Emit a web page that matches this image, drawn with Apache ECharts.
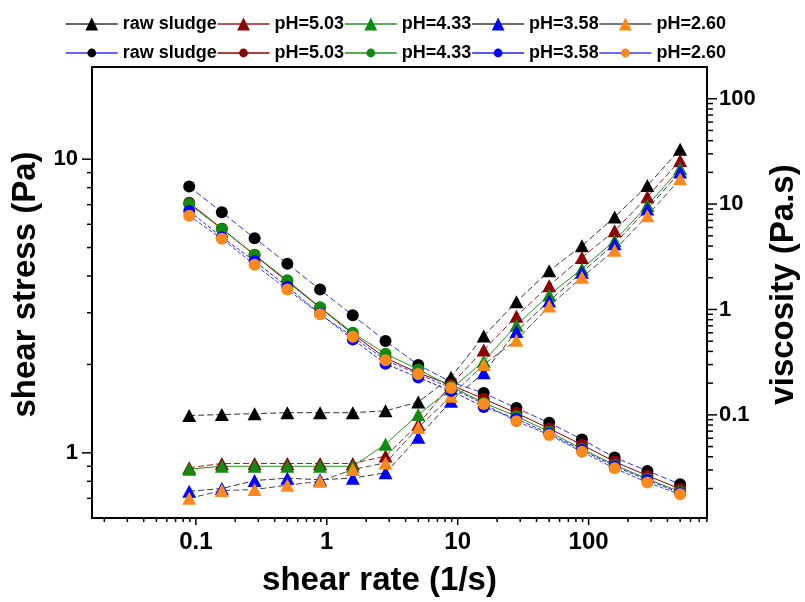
<!DOCTYPE html>
<html><head><meta charset="utf-8">
<script src="https://cdn.jsdelivr.net/npm/echarts@6/dist/echarts.min.js"></script>
<style>html,body{margin:0;padding:0;background:#fff}#c{width:805px;height:602px}</style>
</head><body><div id="c"></div>
<script>
// ---- data ----
const shearRate = [0.089, 0.158, 0.281, 0.5, 0.889, 1.58, 2.81, 5.0, 8.89, 15.8, 28.1, 50, 88.9, 158, 281, 500];
const sampleNames = ['raw sludge', 'pH=5.03', 'pH=4.33', 'pH=3.58', 'pH=2.60'];

const stressRaw = [1.34, 1.35, 1.36, 1.37, 1.37, 1.37, 1.39, 1.49, 1.81, 2.50, 3.27, 4.17, 5.07, 6.35, 8.13, 10.8];
const stress503 = [0.89, 0.92, 0.92, 0.92, 0.92, 0.92, 0.975, 1.25, 1.71, 2.24, 2.92, 3.71, 4.63, 5.70, 7.45, 9.90];
const stress433 = [0.88, 0.90, 0.90, 0.90, 0.90, 0.90, 1.07, 1.35, 1.65, 2.05, 2.72, 3.45, 4.23, 5.28, 6.95, 9.30];
const stress358 = [0.74, 0.756, 0.805, 0.82, 0.81, 0.82, 0.855, 1.13, 1.50, 1.875, 2.59, 3.29, 4.12, 5.15, 6.77, 9.05];
const stress260 = [0.70, 0.744, 0.75, 0.776, 0.80, 0.878, 0.924, 1.22, 1.56, 2.00, 2.42, 3.16, 3.96, 4.90, 6.42, 8.57];

const viscRaw = [14.7, 8.35, 4.75, 2.72, 1.545, 0.88, 0.502, 0.298, 0.205, 0.161, 0.116, 0.084, 0.0585, 0.0393, 0.0294, 0.0220];
const visc503 = [10.3, 5.85, 3.28, 1.84, 1.04, 0.585, 0.347, 0.25, 0.192, 0.142, 0.104, 0.0742, 0.052, 0.036, 0.0265, 0.0198];
const visc433 = [10.0, 5.81, 3.30, 1.89, 1.05, 0.60, 0.38, 0.27, 0.186, 0.13, 0.097, 0.069, 0.0476, 0.0334, 0.0247, 0.0186];
const visc358 = [8.6, 4.85, 2.88, 1.64, 0.91, 0.52, 0.305, 0.226, 0.169, 0.119, 0.092, 0.066, 0.0463, 0.0326, 0.0241, 0.0181];
const visc260 = [7.76, 4.68, 2.66, 1.55, 0.90, 0.552, 0.33, 0.244, 0.18, 0.127, 0.087, 0.0645, 0.0446, 0.0311, 0.0228, 0.0176];

const xTickValues = [0.1, 1, 10, 100];
const xTickLabels = ['0.1', '1', '10', '100'];
const xMinorTicks = [0.02,0.03,0.04,0.05,0.06,0.07,0.08,0.09, 0.2,0.3,0.4,0.5,0.6,0.7,0.8,0.9, 2,3,4,5,6,7,8,9, 20,30,40,50,60,70,80,90, 200,300,400,500,600,700,800];
const yLeftTickValues = [1, 10];
const yLeftTickLabels = ['1', '10'];
const yLeftMinorTicks = [0.7,0.8,0.9, 2,3,4,5,6,7,8,9];
const yRightTickValues = [0.1, 1, 10, 100];
const yRightTickLabels = ['0.1', '1', '10', '100'];
const yRightMinorTicks = [0.02,0.03,0.04,0.05,0.06,0.07,0.08,0.09, 0.2,0.3,0.4,0.5,0.6,0.7,0.8,0.9, 2,3,4,5,6,7,8,9, 20,30,40,50,60,70,80,90];

// ---- layout / style ----
const X_MIN = 0.0161, X_MAX = 802;
const YL_MIN = 0.6, YL_MAX = 20.6;
const YR_MIN = 0.0105, YR_MAX = 200;
const FONT = '"Liberation Sans", Arial, Helvetica, sans-serif';

const stressSets = [stressRaw, stress503, stress433, stress358, stress260];
const viscSets = [viscRaw, visc503, visc433, visc358, visc260];
const markColors = ['#000000', '#8b0000', '#108a10', '#0000ff', '#ff8a1c'];
const stressLineColors = ['#303030', '#9a2020', '#2a8f2a', '#383838', '#484848'];
const stressLineTypes = [[6,3], [6,3], 'solid', [6,3], [6,3]];
const viscLineColors = ['#3030ff', '#8b0000', '#1f8f1f', '#2020ff', '#3a3aff'];
const viscLineTypes = [[6,3], 'solid', 'solid', [4,2], [4,2]];

function pairs(vals) { return shearRate.map((r, i) => [r, vals[i]]); }

function labelFmt(values, labels) {
  return function (v) {
    for (let i = 0; i < values.length; i++) {
      if (Math.abs(v / values[i] - 1) < 1e-6) return labels[i];
    }
    return '';
  };
}

function tickSeries(values, axis, len) {
  return {
    type: 'custom', xAxisIndex: 0, yAxisIndex: axis === 'yr' ? 1 : 0,
    clip: false, silent: true, z: 6, animation: false,
    data: values.map(v => axis === 'x' ? [v, YL_MIN] : [axis === 'yr' ? X_MAX : X_MIN, v]),
    renderItem: function (params, api) {
      const p = api.coord([api.value(0), api.value(1)]);
      let s;
      if (axis === 'x') s = { x1: p[0], y1: p[1], x2: p[0], y2: p[1] + len };
      else if (axis === 'yl') s = { x1: p[0], y1: p[1], x2: p[0] - len, y2: p[1] };
      else s = { x1: p[0], y1: p[1], x2: p[0] + len, y2: p[1] };
      return { type: 'line', shape: s, style: { stroke: '#000', lineWidth: 1.5 } };
    }
  };
}

const series = [];
sampleNames.forEach((n, i) => {
  series.push({
    name: 'S:' + n, type: 'line', xAxisIndex: 0, yAxisIndex: 0,
    data: pairs(stressSets[i]), symbol: 'triangle', symbolSize: [14, 13],
    itemStyle: { color: markColors[i] },
    lineStyle: { color: stressLineColors[i], width: 1, type: stressLineTypes[i] },
    z: 3
  });
});
sampleNames.forEach((n, i) => {
  series.push({
    name: 'V:' + n, type: 'line', xAxisIndex: 0, yAxisIndex: 1,
    data: pairs(viscSets[i]), symbol: 'circle', symbolSize: 12,
    itemStyle: { color: markColors[i] },
    lineStyle: { color: viscLineColors[i], width: 1, type: viscLineTypes[i] },
    z: 4
  });
});
series.push(tickSeries(xTickValues, 'x', 7));
series.push(tickSeries(xMinorTicks, 'x', 4));
series.push(tickSeries(yLeftTickValues, 'yl', 10));
series.push(tickSeries(yLeftMinorTicks, 'yl', 5));
series.push(tickSeries(yRightTickValues, 'yr', 10));
series.push(tickSeries(yRightMinorTicks, 'yr', 6));

const legendBase = {
  left: 60, itemWidth: 52, itemGap: 0, selectedMode: false,
  formatter: name => name.slice(2),
  textStyle: { fontFamily: FONT, fontSize: 18, fontWeight: 'bold', color: '#000' },
  lineStyle: { type: 'solid', width: 1.5 }
};

const axisLine = { show: true, onZero: false, lineStyle: { color: '#000', width: 2 } };

const option = {
  animation: false,
  backgroundColor: '#fff',
  grid: { left: 92, right: 98, top: 67, bottom: 84, show: true, borderColor: '#000', borderWidth: 2, outerBoundsMode: 'none', containLabel: false },
  legend: [
    Object.assign({}, legendBase, { top: 10, itemHeight: 16, data: sampleNames.map(n => 'S:' + n) }),
    Object.assign({}, legendBase, { top: 39, itemHeight: 11, data: sampleNames.map(n => 'V:' + n) })
  ],
  xAxis: {
    type: 'log', min: X_MIN, max: X_MAX, position: 'bottom',
    axisLine: axisLine, axisTick: { show: false }, splitLine: { show: false }, minorTick: { show: false },
    axisLabel: { formatter: labelFmt(xTickValues, xTickLabels), margin: 12, fontFamily: FONT, fontSize: 24, fontWeight: 'bold', color: '#000' },
    name: 'shear rate (1/s)', nameLocation: 'middle', nameGap: 46,
    nameTextStyle: { fontFamily: FONT, fontSize: 33, fontWeight: 'bold', color: '#000', padding: [0, 40, 0, 0] }
  },
  yAxis: [
    {
      type: 'log', min: YL_MIN, max: YL_MAX, position: 'left',
      axisLine: axisLine, axisTick: { show: false }, splitLine: { show: false },
      axisLabel: { formatter: labelFmt(yLeftTickValues, yLeftTickLabels), margin: 14, fontFamily: FONT, fontSize: 22, fontWeight: 'bold', color: '#000' },
      name: 'shear stress (Pa)', nameLocation: 'middle', nameGap: 50, nameRotate: 90,
      nameTextStyle: { fontFamily: FONT, fontSize: 33, fontWeight: 'bold', color: '#000', padding: [0, 0, 0, 16] }
    },
    {
      type: 'log', min: YR_MIN, max: YR_MAX, position: 'right',
      axisLine: axisLine, axisTick: { show: false }, splitLine: { show: false },
      axisLabel: { formatter: labelFmt(yRightTickValues, yRightTickLabels), margin: 12, fontFamily: FONT, fontSize: 22, fontWeight: 'bold', color: '#000' },
      name: 'viscosity (Pa.s)', nameLocation: 'middle', nameGap: 60, nameRotate: 90,
      nameTextStyle: { fontFamily: FONT, fontSize: 33, fontWeight: 'bold', color: '#000', padding: [0, 0, 0, 16] }
    }
  ],
  series: series
};

const chart = echarts.init(document.getElementById('c'), null, { renderer: 'canvas' });
chart.setOption(option);
</script>
</body></html>
